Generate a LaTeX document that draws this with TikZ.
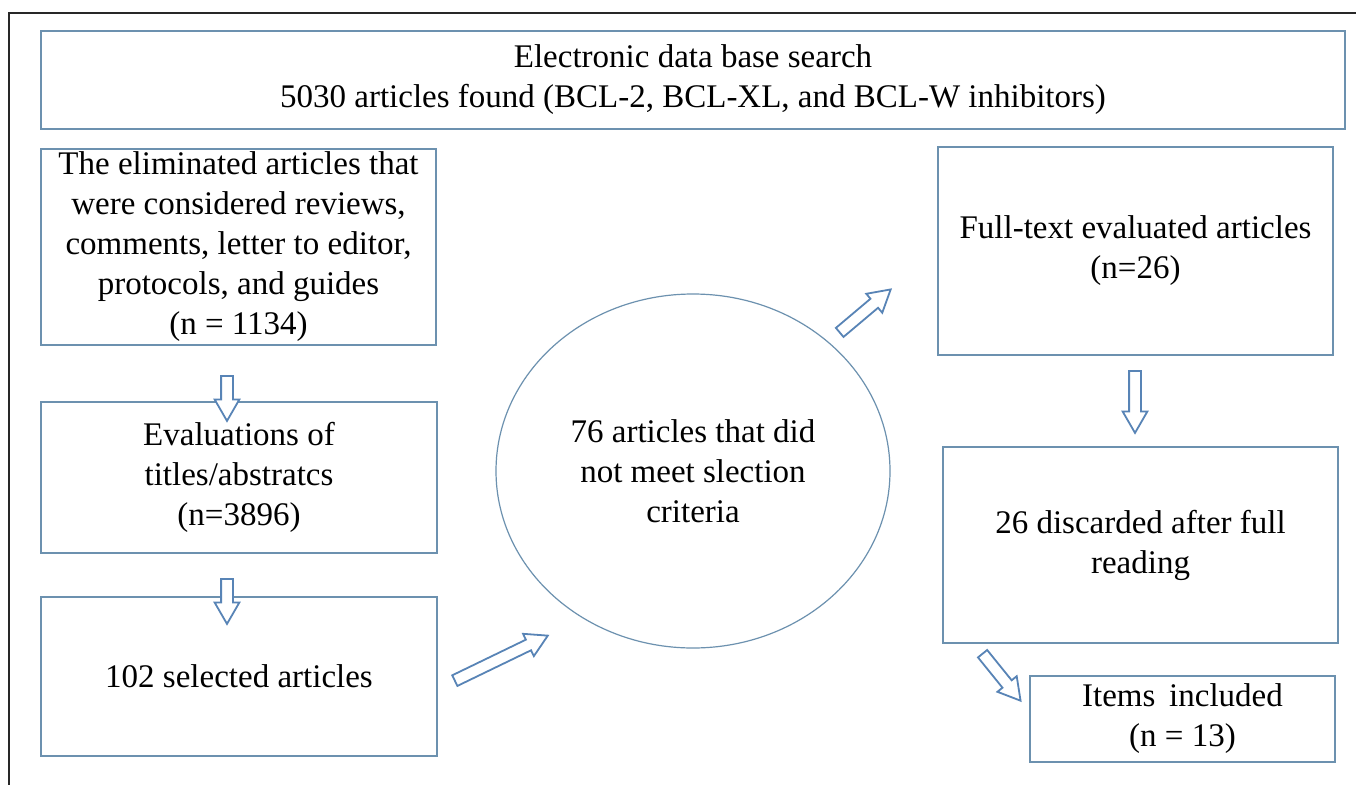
\documentclass[tikz,border=0pt]{standalone}
\usepackage{fontspec}
\setmainfont{Liberation Serif}
\usetikzlibrary{shapes.geometric,shapes.arrows,calc}

\definecolor{boxline}{RGB}{108,145,175}
\definecolor{arrline}{RGB}{88,132,182}
\definecolor{frameline}{RGB}{40,40,40}

\tikzset{
  flowbox/.style={rectangle, draw=boxline, line width=1.5pt, fill=white, align=center, inner sep=0pt, font=\fontsize{33}{40}\selectfont},
  blockarrow/.style={single arrow, draw=arrline, fill=white, line width=1.8pt, inner xsep=0pt, inner ysep=5pt, single arrow head extend=6.5pt, single arrow tip angle=60, sloped, allow upside down, anchor=tail}
}

\begin{document}
\begin{tikzpicture}[x=1pt,y=-1pt]
                        \clip (0,0) rectangle (1356,784);
                        \fill[white] (0,0) rectangle (1356,784);
                        \draw[frameline, line width=2pt] (9,13) rectangle (1400,830);

                        \node (search) at (693,80) [flowbox, minimum width=1304pt, minimum height=98pt] {Electronic data base search\\5030 articles found (BCL-2, BCL-XL, and BCL-W inhibitors)};

                        \node (elim) at (238.5,247) [flowbox, minimum width=395pt, minimum height=196pt] {The eliminated articles that\\were considered reviews,\\comments, letter to editor,\\protocols, and guides\\(n = 1134)};
                        \node (evals) at (239,477.5) [flowbox, minimum width=396pt, minimum height=151pt] {Evaluations of\\titles/abstratcs\\(n=3896)};
                        \node (selected) at (239,676.5) [flowbox, minimum width=396pt, minimum height=159pt] {102 selected articles};

                        \node (crit) at (693,471) [flowbox, ellipse, fill=none, line width=1.2pt, minimum width=394pt, minimum height=354pt] {76 articles that did\\not meet slection\\criteria};

                        \node (fulltext) at (1135.5,251) [flowbox, minimum width=395pt, minimum height=208pt] {Full-text evaluated articles\\(n=26)};
                        \node (discard) at (1140.5,545) [flowbox, minimum width=395pt, minimum height=196pt] {26 discarded after full\\reading};
                        \node (included) at (1182.5,719) [flowbox, minimum width=305pt, minimum height=86pt] {Items\, included\\(n = 13)};

                        \coordinate (elimout) at (227,375);
                        \coordinate (evalsin) at (227,420);
                        \coordinate (evalsout) at (227,578);
                        \coordinate (selectedin) at (227,623);
                        \coordinate (selectedout) at (454,681);
                        \coordinate (critin) at (547,636);
                        \coordinate (critout) at (839,333);
                        \coordinate (fulltextin) at (890,290);
                        \coordinate (fulltextout) at (1135,370);
                        \coordinate (discardin) at (1135,432);
                        \coordinate (discardout) at (982,653);
                        \coordinate (includedin) at (1020,700);

                        \foreach \t/\h in {elimout/evalsin, evalsout/selectedin, selectedout/critin, critout/fulltextin, fulltextout/discardin, discardout/includedin} {
                            \path let \p1=($(\h)-(\t)$), \n1={veclen(\x1,\y1)} in (\t) -- (\h) node[blockarrow, pos=0, minimum height=\n1] {};
                        }
                    \end{tikzpicture}
\end{document}
